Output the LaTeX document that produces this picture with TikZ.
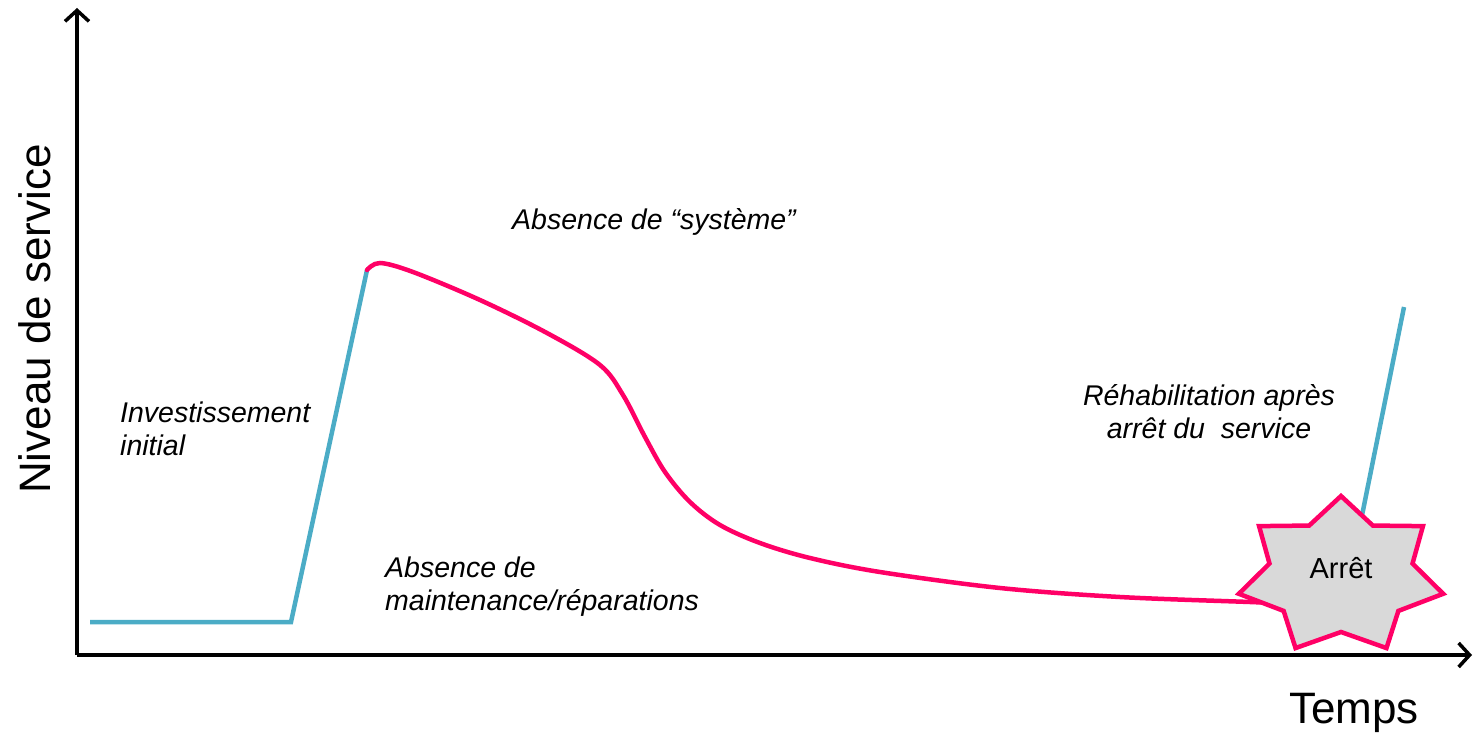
\documentclass[tikz,border=0pt]{standalone}
\usepackage{fontspec}
\setmainfont{Liberation Sans}
\usetikzlibrary{arrows.meta}
\definecolor{niveaublue}{HTML}{4BACC6}
\definecolor{niveaupink}{HTML}{FF0066}
\definecolor{arretgray}{HTML}{D9D9D9}
\tikzset{
  axe/.style={line width=3.5pt,-{Straight Barb[length=11pt,width=24pt,line width=3.5pt]}},
  bleu/.style={niveaublue,line width=4.5pt},
  rose/.style={niveaupink,line width=4.5pt},
  etiquette/.style={font=\fontsize{28.5}{33}\selectfont\itshape,align=left,inner sep=0pt},
  axetexte/.style={font=\fontsize{44}{50}\selectfont,inner sep=0pt}
}

\begin{document}
\begin{tikzpicture}[x=1pt,y=-1pt]
\useasboundingbox (0,0) rectangle (1474,733);
% axes
\coordinate (origine) at (77,655);
\coordinate (haut) at (77,8);
\coordinate (droite) at (1472,655);
\draw[axe] (origine) -- (haut);
\draw[axe] (origine) -- (droite);
\node[axetexte,rotate=90,anchor=base] (niveau) at (50,319) {Niveau de service};
\node[axetexte,anchor=base west] (temps) at (1289,723) {Temps};
% investissement initial
\coordinate (debut) at (90,622);
\coordinate (invest) at (291,622);
\coordinate (sommet) at (367,270);
\draw[bleu] (debut) -- (invest) -- (sommet);
% degradation
\draw[rose,line cap=round] plot[smooth,tension=0.55] coordinates {
  (367,270) (380,263) (413,272) (480,300) (547,333) (600,365) (623,395)
  (645,437) (665,472) (690,502) (720,525) (760,543) (810,558) (880,572)
  (1000,588) (1120,597) (1250,602) (1300,604)};
% rehabilitation
\coordinate (reprise) at (1352,565);
\coordinate (fin) at (1404,307);
\draw[bleu] (reprise) -- (fin);
% arret
\begin{scope}[shift={(1341,576)},xscale=1.31,yscale=-1]
  \draw[niveaupink,line width=4.5pt,fill=arretgray,line join=miter]
    (90:80) \foreach \k in {1,...,13} {
      -- ({90+\k*180/7}:{isodd(\k) ? 56 : 80})} -- cycle;
\end{scope}
\node[font=\fontsize{29}{33}\selectfont] (arret) at (1341,568) {Arrêt};
% textes
\node[etiquette,anchor=base west] (systeme) at (512,229) {Absence de “système”};
\node[etiquette,anchor=base west] (investissement) at (120,455) {Investissement\\initial};
\node[etiquette,anchor=base west] (maintenance) at (385,610) {Absence de\\maintenance/réparations};
\node[etiquette,align=center,anchor=base] (rehab) at (1209,438) {Réhabilitation après\\arrêt du\ \ service};
\end{tikzpicture}
\end{document}
